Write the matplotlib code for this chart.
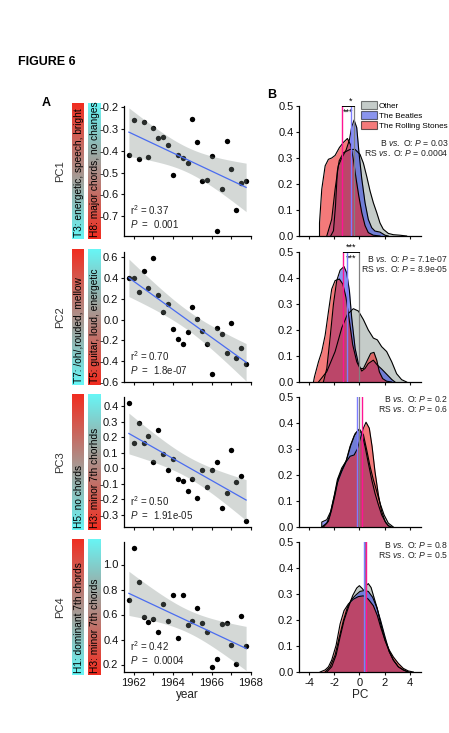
import numpy as np
import matplotlib
matplotlib.use('Agg')
import matplotlib.pyplot as plt
from matplotlib.colors import LinearSegmentedColormap
from matplotlib.patches import Patch
import matplotlib.transforms as mtransforms

plt.rcParams['font.family'] = ['Liberation Sans', 'DejaVu Sans']
plt.rcParams['axes.unicode_minus'] = False
plt.rcParams['mathtext.fontset'] = 'custom'
plt.rcParams['mathtext.rm'] = 'Liberation Sans'
plt.rcParams['mathtext.it'] = 'Liberation Sans:italic'

# ---- panel A data: mean PC score per quarter ----
years = [1961.75, 1962.0, 1962.25, 1962.5, 1962.75, 1963.0, 1963.25, 1963.5, 1963.75,
         1964.0, 1964.25, 1964.5, 1964.75, 1965.0, 1965.25, 1965.5, 1965.75,
         1966.0, 1966.25, 1966.5, 1966.75, 1967.0, 1967.25, 1967.5, 1967.75]
pc1 = [-0.418, -0.259, -0.436, -0.268, -0.428, -0.295, -0.343, -0.335, -0.373, -0.511,
       -0.421, -0.433, -0.458, -0.254, -0.361, -0.539, -0.535, -0.424, -0.766, -0.574,
       -0.353, -0.485, -0.673, -0.547, -0.538]
pc2 = [0.40, 0.40, 0.27, 0.47, 0.30, 0.59, 0.24, 0.07, 0.15, -0.09, -0.19, -0.23, -0.12,
       0.12, 0.01, -0.11, -0.23, -0.52, -0.08, -0.14, -0.32, -0.03, -0.37, -0.27, -0.43]
pc3 = [0.42, 0.16, 0.29, 0.16, 0.21, 0.04, 0.25, 0.09, -0.01, 0.06, -0.07, -0.08, -0.15,
       -0.07, -0.19, -0.01, -0.12, -0.01, 0.04, -0.26, -0.16, 0.12, -0.09, -0.05, -0.34]
pc4 = [0.714, 1.13, 0.861, 0.578, 0.541, 0.565, 0.464, 0.685, 0.552, 0.76, 0.416, 0.76,
       0.52, 0.552, 0.653, 0.533, 0.458, 0.178, 0.242, 0.525, 0.53, 0.354, 0.208, 0.592, 0.349]

pc_names = ['PC1', 'PC2', 'PC3', 'PC4']
r2_vals = ['0.37', '0.70', '0.50', '0.42']
p_vals = ['0.001', '1.8e-07', '1.91e-05', '0.0004']
topic_left = ['T3: energetic, speech, bright', 'T7: /oh/,rouded, mellow',
              'H5: no chords', 'H1: dominant 7th chords']
topic_right = ['H8: major chords, no changes', 'T5: guitar, loud, energetic',
               'H3: minor 7th chorhds', 'H3: minor 7th chords']
ylims_a = [(-0.79, -0.195), (-0.60, 0.65), (-0.38, 0.46), (0.14, 1.18)]
yticks_a = [[-0.7, -0.6, -0.5, -0.4, -0.3, -0.2],
            [-0.6, -0.4, -0.2, 0.0, 0.2, 0.4, 0.6],
            [-0.3, -0.2, -0.1, 0.0, 0.1, 0.2, 0.3, 0.4],
            [0.2, 0.4, 0.6, 0.8, 1.0]]

# ---- panel B data: density curves (PC value, density) ----
other1 = [(-2.28, 0), (-2.06, 0.02), (-1.90, 0.115), (-1.75, 0.25), (-1.6, 0.29), (-1.27, 0.32),
          (-0.74, 0.333), (-0.34, 0.333), (0.05, 0.314), (0.32, 0.28), (0.58, 0.23), (0.85, 0.173),
          (1.11, 0.128), (1.38, 0.09), (1.64, 0.05), (1.90, 0.026), (2.30, 0.01), (2.70, 0.005),
          (3.23, 0.003), (3.76, 0)]
beatles1 = [(-2.59, 0), (-2.20, 0.064), (-1.93, 0.18), (-1.67, 0.27), (-1.40, 0.30), (-1.06, 0.33),
            (-0.79, 0.37), (-0.61, 0.42), (-0.42, 0.446), (-0.21, 0.417), (-0.03, 0.32), (0.19, 0.22),
            (0.45, 0.128), (0.71, 0.064), (0.98, 0.032), (1.24, 0.019), (1.64, 0.015), (2.04, 0.003),
            (2.30, 0)]
stones1 = [(-3.17, 0), (-3.17, 0.05), (-2.99, 0.18), (-2.72, 0.27), (-2.46, 0.295), (-2.20, 0.30),
           (-1.93, 0.31), (-1.59, 0.34), (-1.27, 0.36), (-0.95, 0.375), (-0.69, 0.35), (-0.48, 0.295),
           (-0.26, 0.22), (-0.05, 0.155), (0.19, 0.09), (0.45, 0.04), (0.71, 0.013), (1.11, 0.003),
           (1.64, 0)]
other2 = [(-3.25, 0), (-2.59, 0.04), (-1.93, 0.117), (-1.40, 0.208), (-0.95, 0.26), (-0.48, 0.282),
          (-0.08, 0.273), (0.32, 0.24), (0.71, 0.20), (1.11, 0.169), (1.43, 0.162), (1.77, 0.136),
          (2.17, 0.117), (2.57, 0.078), (2.96, 0.032), (3.36, 0.009), (3.76, 0)]
beatles2 = [(-2.86, 0), (-2.59, 0.052), (-2.33, 0.169), (-2.06, 0.30), (-1.80, 0.39), (-1.53, 0.43),
            (-1.22, 0.444), (-1.01, 0.42), (-0.79, 0.35), (-0.61, 0.247), (-0.34, 0.13), (-0.08, 0.071),
            (0.19, 0.042), (0.45, 0.052), (0.71, 0.071), (1.11, 0.084), (1.43, 0.065), (1.77, 0.05),
            (2.17, 0.03), (2.57, 0.01), (2.83, 0)]
stones2 = [(-3.65, 0), (-3.57, 0.02), (-3.25, 0.078), (-2.99, 0.117), (-2.72, 0.18), (-2.46, 0.27),
           (-2.20, 0.357), (-1.93, 0.39), (-1.59, 0.396), (-1.32, 0.377), (-1.06, 0.325), (-0.79, 0.234),
           (-0.53, 0.143), (-0.21, 0.078), (0.05, 0.052), (0.32, 0.052), (0.58, 0.078), (0.90, 0.11),
           (1.16, 0.114), (1.38, 0.084), (1.59, 0.039), (1.85, 0.013), (2.17, 0.003), (2.57, 0)]
other3 = [(-2.86, 0), (-2.46, 0.022), (-2.20, 0.067), (-1.93, 0.124), (-1.67, 0.188), (-1.32, 0.227),
          (-1.01, 0.259), (-0.69, 0.313), (-0.34, 0.359), (0.0, 0.377), (0.32, 0.355), (0.58, 0.297),
          (0.85, 0.233), (1.11, 0.182), (1.38, 0.137), (1.64, 0.092), (1.96, 0.047), (2.30, 0.015),
          (2.70, 0)]
beatles3 = [(-2.99, 0), (-2.99, 0.019), (-2.59, 0.028), (-2.28, 0.06), (-2.01, 0.118), (-1.75, 0.182),
            (-1.40, 0.227), (-1.06, 0.253), (-0.74, 0.31), (-0.42, 0.35), (-0.08, 0.374), (0.19, 0.36),
            (0.45, 0.31), (0.71, 0.246), (0.98, 0.182), (1.24, 0.13), (1.51, 0.086), (1.77, 0.047),
            (2.12, 0.015), (2.43, 0)]
stones3 = [(-2.99, 0), (-2.59, 0.015), (-2.33, 0.047), (-2.06, 0.105), (-1.75, 0.17), (-1.40, 0.214),
           (-1.06, 0.25), (-0.74, 0.272), (-0.42, 0.277), (-0.16, 0.30), (0.05, 0.336), (0.32, 0.38),
           (0.53, 0.403), (0.79, 0.38), (1.01, 0.31), (1.24, 0.214), (1.51, 0.124), (1.77, 0.06),
           (2.04, 0.022), (2.30, 0.005), (2.57, 0)]
other4 = [(-2.59, 0), (-2.20, 0.02), (-1.85, 0.065), (-1.53, 0.135), (-1.22, 0.198), (-0.87, 0.249),
          (-0.53, 0.294), (-0.21, 0.323), (0.0, 0.332), (0.19, 0.323), (0.37, 0.313), (0.53, 0.332),
          (0.71, 0.34), (0.93, 0.325), (1.16, 0.287), (1.43, 0.243), (1.69, 0.186), (2.04, 0.122),
          (2.38, 0.078), (2.70, 0.046), (3.10, 0.02), (3.49, 0.008), (3.89, 0)]
beatles4 = [(-2.72, 0), (-2.33, 0.02), (-1.93, 0.065), (-1.59, 0.135), (-1.27, 0.198), (-0.95, 0.249),
            (-0.61, 0.28), (-0.26, 0.297), (0.05, 0.31), (0.37, 0.313), (0.71, 0.31), (1.06, 0.287),
            (1.38, 0.249), (1.69, 0.198), (2.04, 0.135), (2.38, 0.078), (2.70, 0.046), (3.10, 0.02),
            (3.49, 0.008), (3.89, 0)]
stones4 = [(-3.12, 0), (-2.72, 0.008), (-2.46, 0.02), (-2.20, 0.046), (-1.85, 0.103), (-1.53, 0.185),
           (-1.22, 0.236), (-0.87, 0.262), (-0.48, 0.28), (-0.08, 0.29), (0.32, 0.293), (0.71, 0.28),
           (1.11, 0.255), (1.43, 0.217), (1.69, 0.173), (2.04, 0.122), (2.38, 0.084), (2.70, 0.058),
           (3.10, 0.033), (3.49, 0.014), (3.89, 0.004), (4.29, 0)]

other_med = [-0.45, -0.05, -0.05, 0.45]
beatles_med = [-0.65, -0.98, -0.18, 0.4]
stones_med = [-1.35, -1.27, 0.24, 0.5]
b_pvals = ['0.03', '7.1e-07', '0.2', '0.8']
rs_pvals = ['0.0004', '8.9e-05', '0.6', '0.5']
stars_top = ['*', '***', '', '']
stars_bot = ['***', '***', '', '']

# ---- layout (pixels) ----
W, H = 449, 733
fig = plt.figure(figsize=(W / 100, H / 100), dpi=100)


def box(x0, y0, x1, y1):
    return [x0 / W, 1 - y1 / H, (x1 - x0) / W, (y1 - y0) / H]


row_top = [106, 252, 397, 542]
row_h = 130
red = (0.95, 0.17, 0.12)
cyan = (0.40, 0.97, 0.97)
c_other = '#8c9a94'
c_beatles = '#2a3ce0'
c_stones = '#ee2222'

pcs = [pc1, pc2, pc3, pc4]
curves = [(other1, beatles1, stones1), (other2, beatles2, stones2),
          (other3, beatles3, stones3), (other4, beatles4, stones4)]
ptext_y = [(143.5, 153), (259, 269.5), (399.5, 409.5), (545.5, 555.5)]
grad = np.linspace(0, 1, 256).reshape(-1, 1)
cm_rc = LinearSegmentedColormap.from_list('rc', [red, cyan])


def style(ax):
    for s in ['top', 'right']:
        ax.spines[s].set_visible(False)
    for s in ['left', 'bottom']:
        ax.spines[s].set_linewidth(0.9)
    ax.tick_params(direction='out', length=2.5, width=0.8, labelsize=8, pad=1.5,
                   colors='#111111')


for i in range(4):
    top = row_top[i]
    bot = top + row_h

    # ---- gradient topic bars ----
    for (x0, x1, txt, rev) in [(72, 84, topic_left[i], False), (88, 101, topic_right[i], True)]:
        bax = fig.add_axes(box(x0, top - 3.5, x1, bot + 3.5))
        bax.imshow(grad[::-1] if rev else grad, aspect='auto', cmap=cm_rc,
                   extent=[0, 1, 0, 1], origin='upper')
        bax.set_axis_off()
        bax.text(0.55, 0.015, txt, rotation=90, ha='center', va='bottom',
                 fontsize=7.3, color='black', transform=bax.transAxes)

    fig.text(60 / W, 1 - (top + row_h / 2) / H, pc_names[i], rotation=90,
             ha='center', va='center', fontsize=8, color='#333333')

    # ---- scatter + regression ----
    ax = fig.add_axes(box(124, top, 251, bot))
    vals = np.array(pcs[i])
    x = np.array(years)
    ax.scatter(x, vals, s=15, color='black', linewidths=0, zorder=2)
    slope, icpt = np.polyfit(x, vals, 1)
    xx = np.linspace(x.min(), x.max(), 100)
    yy = icpt + slope * xx
    resid = vals - (icpt + slope * x)
    n = len(x)
    se = np.sqrt(np.sum(resid ** 2) / (n - 2))
    sxx = np.sum((x - x.mean()) ** 2)
    ci = 2.8 * se * np.sqrt(1 / n + (xx - x.mean()) ** 2 / sxx)
    ax.fill_between(xx, yy - ci, yy + ci, color='#7d8a85', alpha=0.33, lw=0, zorder=3)
    ax.plot(xx, yy, color='#4a6cf0', lw=0.9, zorder=4)
    ax.set_xlim(1961.5, 1968.0)
    ax.set_ylim(*ylims_a[i])
    ax.set_yticks(yticks_a[i])
    ax.set_yticklabels(['%.1f' % v for v in yticks_a[i]])
    ax.set_xticks([1962, 1963, 1964, 1965, 1966, 1967, 1968])
    if i == 3:
        ax.set_xticklabels(['1962', '', '1964', '', '1966', '', '1968'])
    else:
        ax.set_xticklabels([])
    style(ax)
    ax.text(0.05, 0.165, r'r$^2$ = ' + r2_vals[i], transform=ax.transAxes,
            fontsize=7, color='#222222')
    ax.text(0.05, 0.06, r'$\it{P}$  =  ' + p_vals[i], transform=ax.transAxes,
            fontsize=7, color='#222222')

    # ---- density panel ----
    bx = fig.add_axes(box(299, top, 421, bot))
    for pts, col, a in zip(curves[i], [c_other, c_beatles, c_stones], [0.5, 0.55, 0.6]):
        cx = [p[0] for p in pts]
        cy = [p[1] for p in pts]
        bx.fill_between(cx, cy, 0, color=col, alpha=a, lw=0, zorder=2)
        bx.plot(cx, cy, color='black', lw=0.8, zorder=3)
    bx.axvline(other_med[i], color='#808080', lw=0.9, zorder=4)
    bx.axvline(beatles_med[i], color='#7d7dff', lw=1.0, zorder=4)
    bx.axvline(stones_med[i], color='#ff1493', lw=1.0, zorder=5)
    bx.set_xlim(-4.8, 4.9)
    bx.set_ylim(0, 0.5)
    bx.set_yticks([0.0, 0.1, 0.2, 0.3, 0.4, 0.5])
    bx.set_yticklabels(['0.0', '0.1', '0.2', '0.3', '0.4', '0.5'])
    bx.set_xticks([-4, -2, 0, 2, 4])
    if i == 3:
        bx.set_xticklabels(['-4', '-2', '0', '2', '4'])
    else:
        bx.set_xticklabels([])
    style(bx)

    if stars_top[i]:
        tr = mtransforms.blended_transform_factory(bx.transData, bx.transAxes)
        bx.plot([stones_med[i], other_med[i]], [1.0, 1.0], color='black', lw=0.7,
                transform=tr, clip_on=False, zorder=6)
        mid = (stones_med[i] + other_med[i]) / 2
        bx.text(mid + (0.2 if i == 0 else 0), 1.005, stars_top[i], transform=tr, ha='center',
                va='bottom', fontsize=6.5, clip_on=False)
        bx.text(mid, 0.99, stars_bot[i], transform=tr, ha='center', va='top',
                fontsize=6.5, clip_on=False)

    fig.text(448 / W, 1 - ptext_y[i][0] / H, r'B $\it{vs.}$ O: $\it{P}$ = ' + b_pvals[i],
             ha='right', va='center', fontsize=6.2, color='#222222')
    fig.text(448 / W, 1 - ptext_y[i][1] / H, r'RS $\it{vs.}$ O: $\it{P}$ = ' + rs_pvals[i],
             ha='right', va='center', fontsize=6.2, color='#222222')

    if i == 0:
        handles = [Patch(facecolor=c_other, alpha=0.5, edgecolor='black', lw=0.8),
                   Patch(facecolor=c_beatles, alpha=0.55, edgecolor='black', lw=0.8),
                   Patch(facecolor=c_stones, alpha=0.6, edgecolor='black', lw=0.8)]
        bx.legend(handles, ['Other', 'The Beatles', 'The Rolling Stones'], loc='upper left',
                  bbox_to_anchor=(361 / W, 1 - 101 / H), bbox_transform=fig.transFigure,
                  frameon=False, fontsize=5.9, handlelength=1.9, handleheight=1.15,
                  labelspacing=0.15, handletextpad=0.3, borderaxespad=0, borderpad=0)

fig.text(187 / W, 1 - 695 / H, 'year', ha='center', va='center', fontsize=8.5, color='#222222')
fig.text(360 / W, 1 - 695 / H, 'PC', ha='center', va='center', fontsize=8.5, color='#222222')
fig.text(18 / W, 1 - 62 / H, 'FIGURE 6', ha='left', va='center', fontsize=9, fontweight='bold')
fig.text(46 / W, 1 - 103 / H, 'A', ha='center', va='center', fontsize=9, fontweight='bold')
fig.text(272 / W, 1 - 95 / H, 'B', ha='center', va='center', fontsize=9, fontweight='bold')

fig.savefig('out.png', dpi=100)
